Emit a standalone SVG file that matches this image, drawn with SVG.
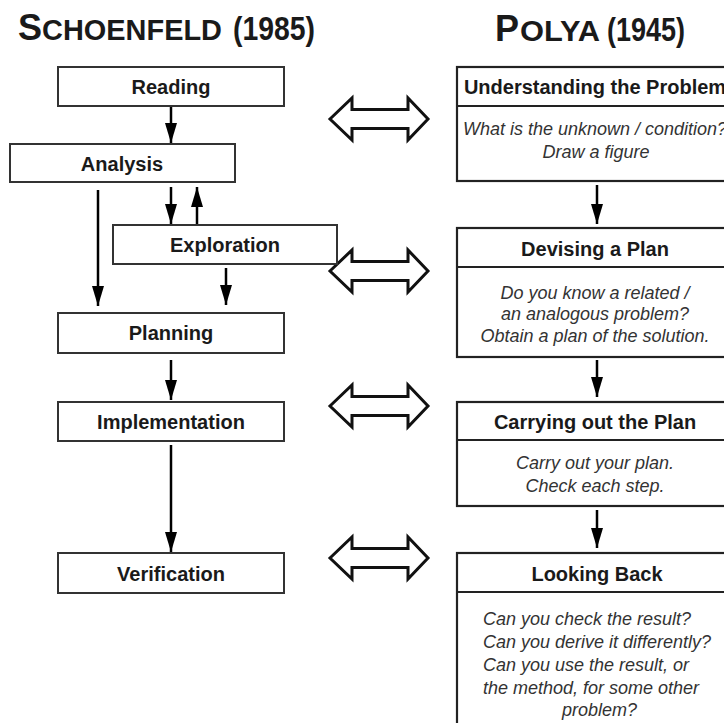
<svg xmlns="http://www.w3.org/2000/svg" width="724" height="723" viewBox="0 0 724 723">
<defs>
<style>
.box{fill:#fff;stroke:#333;stroke-width:2}
.pbox{fill:#fff;stroke:#222;stroke-width:2.2}
.sep{stroke:#222;stroke-width:2.2}
.lbl{font-family:"Liberation Sans",Arial,sans-serif;font-weight:bold;font-size:20px;fill:#1a1a1a;text-anchor:middle}
.body{font-family:"Liberation Sans",Arial,sans-serif;font-style:italic;font-size:18px;fill:#333}
.mid{text-anchor:middle}
.title{font-family:"Liberation Sans",Arial,sans-serif;font-weight:bold;fill:#1a1a1a}
.conn{stroke:#000;stroke-width:2.5;fill:none;marker-end:url(#ah)}
.dbl{fill:#fff;stroke:#111;stroke-width:3;stroke-linejoin:miter}
</style>
<marker id="ah" viewBox="0 0 20 12" refX="20" refY="6" markerWidth="20" markerHeight="12" markerUnits="userSpaceOnUse" orient="auto">
<path d="M0,0 L20,6 L0,12 z" fill="#000"/>
</marker>
</defs>
<rect width="724" height="723" fill="#fff"/>

<g id="titles">
<text class="title" y="40"><tspan x="18" font-size="36">S</tspan><tspan x="42" font-size="29" textLength="180" lengthAdjust="spacingAndGlyphs">CHOENFELD</tspan><tspan x="233" font-size="34" textLength="82" lengthAdjust="spacingAndGlyphs">(1985)</tspan></text>
<text class="title" y="41"><tspan x="495" font-size="36">P</tspan><tspan x="520" font-size="29" textLength="80" lengthAdjust="spacingAndGlyphs">OLYA</tspan><tspan x="607" font-size="34" textLength="78" lengthAdjust="spacingAndGlyphs">(1945)</tspan></text>
</g>

<g id="connectors">
<line class="conn" x1="171" y1="106" x2="171" y2="143"/>
<line class="conn" x1="171" y1="187" x2="171" y2="224"/>
<line class="conn" x1="197" y1="225" x2="197" y2="187"/>
<line class="conn" x1="98" y1="190" x2="98" y2="306"/>
<line class="conn" x1="226" y1="268" x2="226" y2="305"/>
<line class="conn" x1="171" y1="360" x2="171" y2="400"/>
<line class="conn" x1="171" y1="445" x2="171" y2="552"/>
<line class="conn" x1="597" y1="185" x2="597" y2="224"/>
<line class="conn" x1="597" y1="360" x2="597" y2="397"/>
<line class="conn" x1="597" y1="510" x2="597" y2="548"/>
<polygon class="dbl" points="330,119 352,98 352,109.5 408,109.5 408,98 428,119 408,140 408,128.5 352,128.5 352,140"/>
<polygon class="dbl" points="330,271 352,250 352,261.5 408,261.5 408,250 428,271 408,292 408,280.5 352,280.5 352,292"/>
<polygon class="dbl" points="330,406 352,385 352,396.5 408,396.5 408,385 428,406 408,427 408,415.5 352,415.5 352,427"/>
<polygon class="dbl" points="330,558 352,537 352,548.5 408,548.5 408,537 428,558 408,579 408,567.5 352,567.5 352,579"/>
</g>

<g id="reading"><rect class="box" x="58" y="67" width="226" height="39"/><text class="lbl" x="171" y="94">Reading</text></g>
<g id="analysis"><rect class="box" x="10" y="144" width="225" height="38"/><text class="lbl" x="122" y="171">Analysis</text></g>
<g id="exploration"><rect class="box" x="113" y="225" width="224" height="39"/><text class="lbl" x="225" y="252">Exploration</text></g>
<g id="planning"><rect class="box" x="58" y="313" width="226" height="40"/><text class="lbl" x="171" y="340">Planning</text></g>
<g id="implementation"><rect class="box" x="58" y="402" width="226" height="39"/><text class="lbl" x="171" y="429">Implementation</text></g>
<g id="verification"><rect class="box" x="58" y="553" width="226" height="40"/><text class="lbl" x="171" y="581">Verification</text></g>

<g id="understanding">
<rect class="pbox" x="457" y="67" width="282" height="114"/>
<line class="sep" x1="457" y1="106" x2="739" y2="106"/>
<text class="lbl" x="595" y="94">Understanding the Problem</text>
<text class="body mid" x="595" y="135">What is the unknown / condition?</text>
<text class="body mid" x="596" y="158">Draw a figure</text>
</g>
<g id="devising">
<rect class="pbox" x="457" y="228" width="282" height="129"/>
<line class="sep" x1="457" y1="267" x2="739" y2="267"/>
<text class="lbl" x="595" y="256">Devising a Plan</text>
<text class="body mid" x="595" y="299">Do you know a related /</text>
<text class="body mid" x="595" y="320">an analogous problem?</text>
<text class="body mid" x="595" y="342">Obtain a plan of the solution.</text>
</g>
<g id="carrying">
<rect class="pbox" x="457" y="402" width="282" height="104"/>
<line class="sep" x1="457" y1="440" x2="739" y2="440"/>
<text class="lbl" x="595" y="429">Carrying out the Plan</text>
<text class="body mid" x="595" y="469">Carry out your plan.</text>
<text class="body mid" x="595" y="492">Check each step.</text>
</g>
<g id="lookingback">
<rect class="pbox" x="457" y="553" width="282" height="190"/>
<line class="sep" x1="457" y1="592" x2="739" y2="592"/>
<text class="lbl" x="597" y="581">Looking Back</text>
<text class="body" x="483" y="625">Can you check the result?</text>
<text class="body" x="483" y="648">Can you derive it differently?</text>
<text class="body" x="483" y="671">Can you use the result, or</text>
<text class="body" x="483" y="694">the method, for some other</text>
<text class="body" x="562" y="716">problem?</text>
</g>
</svg>
